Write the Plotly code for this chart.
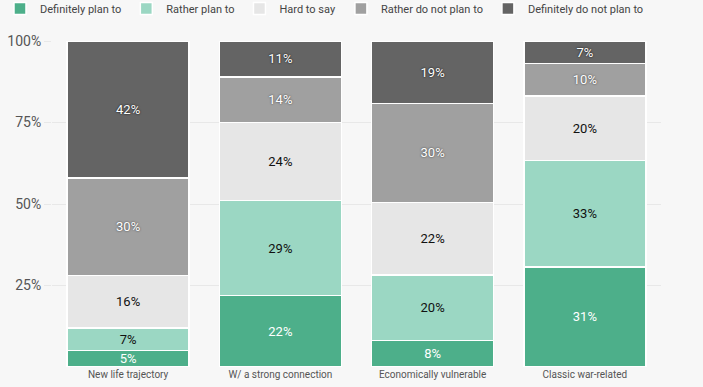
import plotly.graph_objects as go

categories = ["New life trajectory", "W/ a strong connection", "Economically vulnerable", "Classic war-related"]
definitely_plan = [5, 22, 8, 31]
rather_plan = [7, 29, 20, 33]
hard_to_say = [16, 24, 22, 20]
rather_not = [30, 14, 30, 10]
definitely_not = [42, 11, 19, 7]

series = [
    ("Definitely plan to", definitely_plan, "#4daf8a", dict(color="white")),
    ("Rather plan to", rather_plan, "#9bd7c3", dict(color="#111111")),
    ("Hard to say", hard_to_say, "#e6e6e6", dict(color="#111111")),
    ("Rather do not plan to", rather_not, "#a0a0a0", dict(color="white", shadow="0px 0px 2px #333")),
    ("Definitely do not plan to", definitely_not, "#646464", dict(color="white", shadow="0px 0px 2px #000")),
]

fig = go.Figure()
for name, vals, color, tf in series:
    fig.add_trace(go.Bar(
        name=name, x=categories, y=vals,
        marker=dict(color=color, line=dict(color="white", width=1.5)),
        text=[f"{v}%" for v in vals], textposition="inside", insidetextanchor="middle",
        textfont=dict(size=13, family="Roboto", **tf),
        constraintext="none", hoverinfo="skip",
    ))

fig.update_layout(
    barmode="stack", barnorm="percent", bargap=0.2,
    width=703, height=387,
    margin=dict(l=52, r=42, t=41, b=20, autoexpand=False),
    paper_bgcolor="#f7f7f7", plot_bgcolor="#f7f7f7",
    font=dict(family="Roboto", color="#555555"),
    legend=dict(orientation="h", traceorder="normal", x=-0.0854, xanchor="left",
                y=1.055, yanchor="bottom",
                font=dict(size=11, color="#444444", family="Roboto"),
                itemwidth=30, bgcolor="rgba(0,0,0,0)"),
    showlegend=True,
)
fig.update_xaxes(tickfont=dict(size=10, color="#555555"), showgrid=False, showline=False, ticks="")
fig.update_yaxes(range=[0, 100], tickvals=[25, 50, 75, 100], ticktext=["25%", "50%", "75%", "100%"],
                 tickfont=dict(size=14, color="#555555"), showgrid=True, gridcolor="#e8e8e8",
                 ticks="outside", ticklen=7, tickcolor="#e8e8e8", zeroline=False, showline=False,
                 automargin=False)

fig.write_html("out.html", config={"displayModeBar": False},
               post_script="document.body.style.margin='0';document.body.style.overflow='hidden';")
